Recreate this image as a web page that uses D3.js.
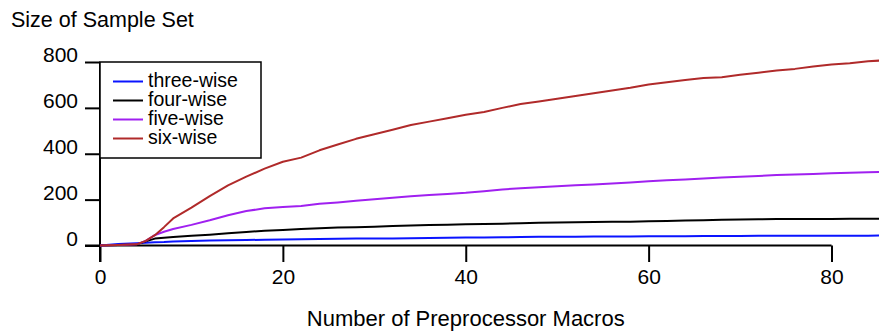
<!DOCTYPE html>
<html>
<head>
<meta charset="utf-8">
<script src="https://cdn.jsdelivr.net/npm/d3@7"></script>
<style>
  body { margin: 0; background: #fff; }
  text { font-family: "Liberation Sans", Arial, Helvetica, sans-serif; fill: #000; }
</style>
</head>
<body>
<div id="chart"></div>
<script>
var width = 879;
var height = 333;

// number of preprocessor macros (x values)
var macros = [0, 2, 4, 5, 6, 7, 8, 10, 12, 14, 16, 18, 20, 22, 24, 26, 28, 30, 32, 34, 36, 38, 40,
    42, 44, 46, 48, 50, 52, 54, 56, 58, 60, 62, 64, 66, 68, 70, 72, 74, 76, 78, 80, 82, 84, 86];

var threeWise = [0, 7, 10, 12, 14, 15, 17, 20, 22, 23, 24, 25, 26, 27, 28, 29, 30, 31, 31, 32, 33, 34, 35,
    35, 36, 37, 38, 38, 38, 39, 39, 39, 40, 40, 40, 41, 41, 41, 42, 42, 42, 43, 43, 43, 43, 44];
var fourWise = [0, 2, 5, 18, 30, 34, 37, 42, 47, 53, 59, 64, 68, 72, 75, 78, 80, 82, 85, 87, 89, 91, 93,
    94, 95, 97, 99, 100, 101, 102, 103, 104, 106, 107, 109, 110, 112, 113, 114, 116, 116, 116, 116, 117, 117, 117];
var fiveWise = [0, 2, 5, 20, 45, 60, 72, 90, 110, 132, 150, 162, 168, 172, 182, 188, 195, 202, 208, 215, 220, 225, 230,
    237, 244, 250, 254, 258, 263, 266, 270, 275, 280, 284, 288, 292, 296, 300, 303, 307, 310, 312, 315, 317, 319, 322];
var sixWise = [0, 2, 5, 20, 45, 80, 118, 165, 215, 262, 300, 335, 365, 383, 415, 440, 465, 485, 505, 525, 540, 555, 570,
    582, 600, 617, 628, 640, 652, 664, 676, 688, 702, 712, 722, 730, 734, 744, 753, 763, 770, 780, 789, 795, 803, 808];

var seriesNames = ["three-wise", "four-wise", "five-wise", "six-wise"];
var seriesColors = ["#0a14ff", "#000000", "#a020f0", "#b02a2a"];
var seriesValues = [threeWise, fourWise, fiveWise, sixWise];

var xTicks = [0, 20, 40, 60, 80];
var yTicks = [0, 200, 400, 600, 800];

var svg = d3.select("#chart").append("svg")
    .attr("width", width)
    .attr("height", height);

var xScale = d3.scaleLinear()
    .domain([0, 80])
    .range([100, 831.5]);

var yScale = d3.scaleLinear()
    .domain([0, 800])
    .range([245.5, 62]);

// axis lines drawn by hand, they run past the origin
svg.append("line")
    .attr("x1", xScale(0)).attr("x2", xScale(0))
    .attr("y1", yScale(800)).attr("y2", yScale(0) + 16.5)
    .attr("stroke", "#000").attr("stroke-width", 2);

svg.append("line")
    .attr("x1", xScale(0) - 15).attr("x2", xScale(80))
    .attr("y1", yScale(0)).attr("y2", yScale(0))
    .attr("stroke", "#000").attr("stroke-width", 2);

var yAxis = svg.append("g")
    .attr("transform", "translate(" + xScale(0) + ",0)")
    .call(d3.axisLeft(yScale).tickValues(yTicks).tickSize(15).tickPadding(7).tickSizeOuter(0));

var xAxis = svg.append("g")
    .attr("transform", "translate(0," + yScale(0) + ")")
    .call(d3.axisBottom(xScale).tickValues(xTicks).tickSize(16.5).tickPadding(7).tickSizeOuter(0));

[yAxis, xAxis].forEach(function(g){
    g.select(".domain").remove();
    g.selectAll(".tick line").attr("stroke", "#000").attr("stroke-width", 2);
    g.selectAll(".tick text")
        .style("font-family", "'Liberation Sans', Arial, sans-serif")
        .style("font-size", "21px")
        .attr("fill", "#000");
});
yAxis.selectAll(".tick text").attr("dy", "-0.02em");

// data lines
var line = d3.line()
    .x(function(d){ return xScale(d[0]); })
    .y(function(d){ return yScale(d[1]); });

seriesValues.forEach(function(vals, i){
    var pts = macros.map(function(m, j){ return [m, vals[j]]; });
    svg.append("path")
        .datum(pts)
        .attr("d", line)
        .attr("fill", "none")
        .attr("stroke", seriesColors[i])
        .attr("stroke-width", 2)
        .attr("stroke-linejoin", "round");
});

// legend
var legend = svg.append("g");
legend.append("rect")
    .attr("x", 100).attr("y", 62)
    .attr("width", 161).attr("height", 96)
    .attr("fill", "#fff")
    .attr("stroke", "#000")
    .attr("stroke-width", 1.5);

seriesNames.forEach(function(name, i){
    var ly = 81.5 + i * 19;
    legend.append("line")
        .attr("x1", 113).attr("x2", 143)
        .attr("y1", ly).attr("y2", ly)
        .attr("stroke", seriesColors[i])
        .attr("stroke-width", 2);
    legend.append("text")
        .attr("x", 148).attr("y", ly + 5)
        .style("font-size", "19.5px")
        .text(name);
});

// titles
svg.append("text")
    .attr("x", 11).attr("y", 27)
    .style("font-size", "21.5px")
    .text("Size of Sample Set");

svg.append("text")
    .attr("x", (xScale(0) + xScale(80)) / 2).attr("y", 326)
    .attr("text-anchor", "middle")
    .style("font-size", "22px")
    .text("Number of Preprocessor Macros");
</script>
</body>
</html>
